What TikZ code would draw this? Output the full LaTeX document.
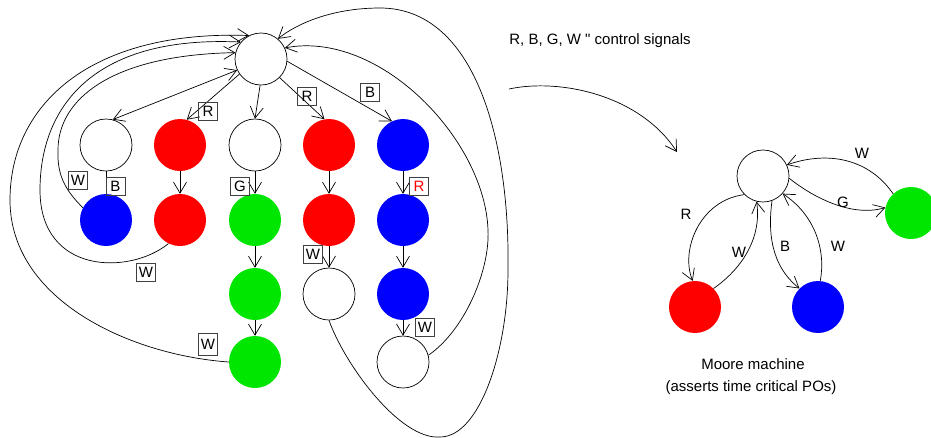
\documentclass[tikz,border=0pt]{standalone}
\usepackage{fontspec}
\setmainfont{Liberation Sans}[Ligatures=TeXOff]
\usetikzlibrary{arrows.meta}
\definecolor{sgreen}{RGB}{0,230,0}
\begin{document}
\begin{tikzpicture}[x=1pt,y=-1pt,
  every node/.style={font=\fontsize{15}{17}\selectfont},
  st/.style={circle,minimum size=52pt,inner sep=0pt},
  wh/.style={st,draw,line width=0.7pt},
  rd/.style={st,fill=red},
  bl/.style={st,fill=blue},
  gr/.style={st,fill=sgreen},
  con/.style={line width=0.7pt,-{Straight Barb[length=11pt,width=13pt]}},
  conb/.style={line width=0.7pt,{Straight Barb[length=11pt,width=13pt]}-{Straight Barb[length=11pt,width=13pt]}},
  pl/.style={line width=0.7pt},
  bx/.style={draw=black!75,line width=0.6pt,minimum width=19pt,minimum height=18pt,inner sep=0pt},
  tx/.style={inner sep=0pt}
]
\useasboundingbox (0,0) rectangle (931,437);

% left graph nodes
\node[wh] (T) at (261,59) {};
\node[wh] (A1) at (106,145) {};
\node[rd] (B1) at (180,145) {};
\node[wh] (C1) at (255,145) {};
\node[rd] (D1) at (329,145) {};
\node[bl] (E1) at (403,145) {};
\node[bl] (A2) at (106,220) {};
\node[rd] (B2) at (180,220) {};
\node[gr] (C2) at (255,220) {};
\node[rd] (D2) at (329,220) {};
\node[bl] (E2) at (403,220) {};
\node[gr] (C3) at (255,294) {};
\node[wh] (D3) at (329,294) {};
\node[bl] (E3) at (403,294) {};
\node[gr] (C4) at (255,362) {};
\node[wh] (E4) at (403,362) {};

% out of the top state
\draw[conb] (T.205) -- (A1.75);
\draw[con] (T.215) -- (B1.75);
\draw[con] (T.268) -- (C1.90);
\draw[con] (T.-45) -- (D1.100);
\draw[con] (T.-5) -- (E1.115);
\node[bx] (lR1) at (208,111) {R};
\node[bx] (lR2) at (307,96) {R};
\node[bx] (lB1) at (370,92) {B};

% columns
\draw[pl] (A1) -- (A2);
\draw[con] (B1) -- (B2);
\draw[con] (C1) -- (C2);
\draw[con] (D1) -- (D2);
\draw[con] (E1) -- (E2);
\draw[con] (C2) -- (C3);
\draw[con] (D2) -- (D3);
\draw[con] (E2) -- (E3);
\draw[con] (C3) -- (C4);
\draw[con] (E3) -- (E4);
\node[bx] (lB2) at (115.5,186) {B};
\node[bx] (lG) at (240,186) {G};
\node[bx,text=red] (lR3) at (419,186) {R};
\node[bx] (lW1) at (313,254) {W};
\node[bx] (lW2) at (425,327) {W};

% W returns on the left
\draw[con] (A2.152) .. controls (65,190) and (57,175) .. (58,150)
  .. controls (58,100) and (110,55) .. (T.166);
\draw[con] (B2.244) .. controls (130,275) and (40,275) .. (40,190)
  .. controls (40,110) and (90,35) .. (T.140);
\draw[con] (C4.west) .. controls (130,355) and (10,300) .. (10,200)
  .. controls (10,105) and (90,30) .. (T.117);
\node[bx] (lW3) at (78,180) {W};
\node[bx] (lW4) at (146,272) {W};
\node[bx,minimum height=22pt] (lW5) at (208,344) {W};

% returns on the right
\draw[con] (E4.15) .. controls (465,330) and (490,270) .. (488,230)
  .. controls (485,140) and (380,30) .. (T.25);
\draw[con] (D3.south) .. controls (345,365) and (400,440) .. (440,437)
  .. controls (480,437) and (508,350) .. (508,270)
  .. controls (510,140) and (475,8) .. (380,8)
  .. controls (330,8) and (295,25) .. (T.50);

% caption and arrow
\node[tx] (title) at (600,41) {R, B, G, W " control signals};
\coordinate (s) at (509,89);
\coordinate (e) at (677,152);
\draw[con] (s) .. controls (560,78) and (640,95) .. (e);

% Moore machine
\node[wh] (M) at (763,176) {};
\node[gr] (g) at (911,213) {};
\node[rd] (r) at (695,307) {};
\node[bl] (b) at (818,307) {};

\draw[con] (M.-5) .. controls (810,195) and (850,218) .. (g.168);
\draw[con] (g.133) .. controls (870,160) and (830,150) .. (M.25);
\draw[con] (M.225) .. controls (700,200) and (680,250) .. (r.95);
\draw[con] (r.45) .. controls (740,270) and (762,240) .. (M.256);
\draw[con] (M.290) .. controls (768,230) and (770,265) .. (b.135);
\draw[con] (b.85) .. controls (826,250) and (815,215) .. (M.318);
\node[tx] (mG) at (843,202) {G};
\node[tx] (mW1) at (862,153) {W};
\node[tx] (mR) at (686,214) {R};
\node[tx] (mW2) at (739,252) {W};
\node[tx] (mB) at (785,246) {B};
\node[tx] (mW3) at (838,246) {W};

\node[tx] (moore) at (753,364) {Moore machine};
\node[tx] (assert) at (751,388) {(asserts time critical POs)};
\end{tikzpicture}
\end{document}
